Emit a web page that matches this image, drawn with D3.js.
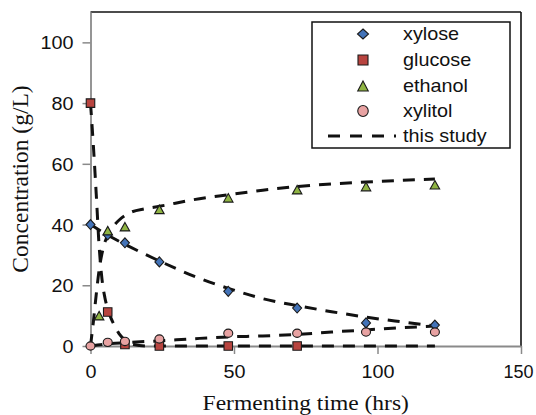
<!DOCTYPE html>
<html>
<head>
<meta charset="utf-8">
<script src="https://cdn.jsdelivr.net/npm/d3@7"></script>
<style>
  html, body { margin: 0; padding: 0; background: #fff; }
  svg { display: block; }
</style>
</head>
<body>
<svg id="chart" width="536" height="415"></svg>
<script>
// ---------- data ----------
const xTicks = [0, 50, 100, 150];
const yTicks = [0, 20, 40, 60, 80, 100];

const xyloseData  = [[0,40],[6,36.6],[12,34],[24,27.7],[48,18],[72,12.5],[96,7.6],[120,6.9]];
const glucoseData = [[0,80],[6,11.2],[12,0.5],[24,0],[48,0],[72,0]];
const ethanolData = [[3,10],[6,38],[12,39.3],[24,45],[48,48.8],[72,51.5],[96,52.5],[120,53.1]];
const xylitolData = [[0,0],[6,1.2],[12,1.5],[24,2.3],[48,4.2],[72,4.2],[96,4.6],[120,4.6]];

// model curves ("this study")
const xyloseFit  = [[0,40],[6,36.5],[12,33.5],[24,28],[36,23],[48,19],[60,15.6],[72,13.3],[84,11.3],[96,9.5],[108,8],[120,6.6]];
const glucoseFit = [[0,80],[1,66],[2,50],[3,33],[4,22],[5,16],[6,12.2],[7,9.5],[8.5,6.5],[10,4],[12,2],[15,0.5],[20,0],[60,0],[120,0]];
const ethanolFit = [[0,0],[1,8],[2,17],[3,25],[4.5,32.5],[6,36.5],[8,39.5],[10,41.5],[14,44],[19,45.2],[24,46],[36,48.2],[48,49.8],[60,51.3],[72,52.5],[96,54],[120,55]];
const xylitolFit = [[0,0],[6,0.7],[12,1.1],[24,1.7],[36,2.4],[48,3],[60,3.3],[72,3.8],[84,4.6],[96,5.3],[108,6],[120,6.6]];

const legendLabels = ["xylose", "glucose", "ethanol", "xylitol", "this study"];

// ---------- layout ----------
const svg = d3.select("#chart");
const x = d3.scaleLinear().domain([0, 150]).range([90.5, 521]);
const y = d3.scaleLinear().domain([0, 110]).range([346, 12]);

const axisGray = "#8a8a8a";
const sansFont = "'Liberation Sans', Arial, Helvetica, sans-serif";
const serifFont = "'Liberation Serif', 'Times New Roman', Times, serif";
const SX = 1.1; // horizontal stretch of the original figure

const colors = { xylose: "#4373b8", glucose: "#b8443f", ethanol: "#8fb443", xylitol: "#e8a2a2" };

// frame: top and right black
svg.append("line").attr("x1", x(0)).attr("x2", x(150)).attr("y1", y(110)).attr("y2", y(110))
  .attr("stroke", "#111").attr("stroke-width", 1.6);
svg.append("line").attr("x1", x(150)).attr("x2", x(150)).attr("y1", y(110)).attr("y2", y(0))
  .attr("stroke", "#111").attr("stroke-width", 1.6);

// axes
const yAxis = d3.axisLeft(y).tickValues(yTicks).tickSize(8).tickSizeOuter(0).tickPadding(9);
const gy = svg.append("g").attr("transform", `translate(${x(0)},0)`).call(yAxis);
const xAxis = d3.axisBottom(x).tickValues(xTicks).tickSize(8).tickSizeOuter(0).tickPadding(6);
const gx = svg.append("g").attr("transform", `translate(0,${y(0)})`).call(xAxis);

[gx, gy].forEach(g => {
  g.select(".domain").attr("stroke", axisGray).attr("stroke-width", 1.8);
  g.selectAll(".tick line").attr("stroke", axisGray).attr("stroke-width", 1.5);
  g.selectAll(".tick text").attr("fill", "#111").attr("font-family", sansFont).attr("font-size", 18);
});
gy.selectAll(".tick text").each(function() {
  const t = d3.select(this);
  const tx = +t.attr("x") || 0;
  t.attr("x", null).attr("dy", "0.36em")
   .attr("transform", `translate(${tx},0) scale(${SX},1)`);
});
gx.selectAll(".tick text").each(function(d) {
  const t = d3.select(this);
  const ty = +t.attr("y") || 0;
  const shift = d === 150 ? -3 : 0;
  t.attr("y", null).attr("dy", null)
   .attr("transform", `translate(${shift},${ty + 18}) scale(${d === 150 ? 1.0 : SX},1)`);
});

// axis titles
svg.append("text")
  .attr("transform", `translate(${(x(0) + x(150)) / 2},410) scale(1.12,1)`)
  .attr("text-anchor", "middle").attr("font-family", serifFont).attr("font-size", 21)
  .attr("fill", "#111").text("Fermenting time (hrs)");
svg.append("text")
  .attr("transform", `translate(28,${(y(0) + y(110)) / 2}) rotate(-90)`)
  .attr("text-anchor", "middle").attr("font-family", serifFont).attr("font-size", 23.5)
  .attr("fill", "#111").text("Concentration (g/L)");

// fitted curves
const line = d3.line().x(d => x(d[0])).y(d => y(d[1])).curve(d3.curveMonotoneX);
[glucoseFit, ethanolFit, xyloseFit, xylitolFit].forEach(fit => {
  svg.append("path").datum(fit).attr("d", line)
    .attr("fill", "none").attr("stroke", "#111").attr("stroke-width", 3)
    .attr("stroke-dasharray", "12,9");
});

// markers (w, h = full width / height in px)
function shapePath(type, w, h) {
  const a = w / 2, b = h / 2;
  if (type === "xylose") return `M0,${-b}L${a},0L0,${b}L${-a},0Z`;
  if (type === "glucose") return `M${-a},${-b}H${a}V${b}H${-a}Z`;
  if (type === "ethanol") return `M0,${-b}L${a},${b}H${-a}Z`;
  return null;
}
function marker(g, type, cx, cy, w, h) {
  if (type === "xylitol") {
    g.append("ellipse").attr("cx", cx).attr("cy", cy).attr("rx", w / 2).attr("ry", h / 2)
      .attr("fill", colors[type]).attr("stroke", "#1a1a1a").attr("stroke-width", 1.1);
  } else {
    g.append("path").attr("d", shapePath(type, w, h))
      .attr("transform", `translate(${cx},${cy})`)
      .attr("fill", colors[type]).attr("stroke", "#1a1a1a").attr("stroke-width", 1.1);
  }
}
const series = [
  ["xylose", xyloseData, [9, 10]],
  ["glucose", glucoseData, [8.5, 8.5]],
  ["ethanol", ethanolData, [9.5, 8.5]],
  ["xylitol", xylitolData, [9, 8.3]]
];
const gm = svg.append("g");
series.forEach(([name, data, sz]) => {
  data.forEach(d => marker(gm, name, x(d[0]), y(d[1]), sz[0], sz[1]));
});

// legend
const lg = svg.append("g");
lg.append("rect").attr("x", 312).attr("y", 22).attr("width", 198).attr("height", 126)
  .attr("fill", "#fff").attr("stroke", "#111").attr("stroke-width", 1.5);
const rowY = [34, 60, 86, 111, 136];
const legendSizes = [[11, 10], [10, 10], [10.5, 10], [10.5, 11]];
legendLabels.forEach((lab, i) => {
  if (i < 4) {
    marker(lg, series[i][0], 363, rowY[i], legendSizes[i][0], legendSizes[i][1]);
  } else {
    lg.append("line").attr("x1", 328).attr("x2", 396).attr("y1", rowY[i]).attr("y2", rowY[i])
      .attr("stroke", "#111").attr("stroke-width", 3).attr("stroke-dasharray", "12,10");
  }
  lg.append("text")
    .attr("transform", `translate(403,${rowY[i] + 6}) scale(${SX},1)`)
    .attr("font-family", sansFont).attr("font-size", 18).attr("fill", "#111")
    .text(lab);
});
</script>
</body>
</html>
